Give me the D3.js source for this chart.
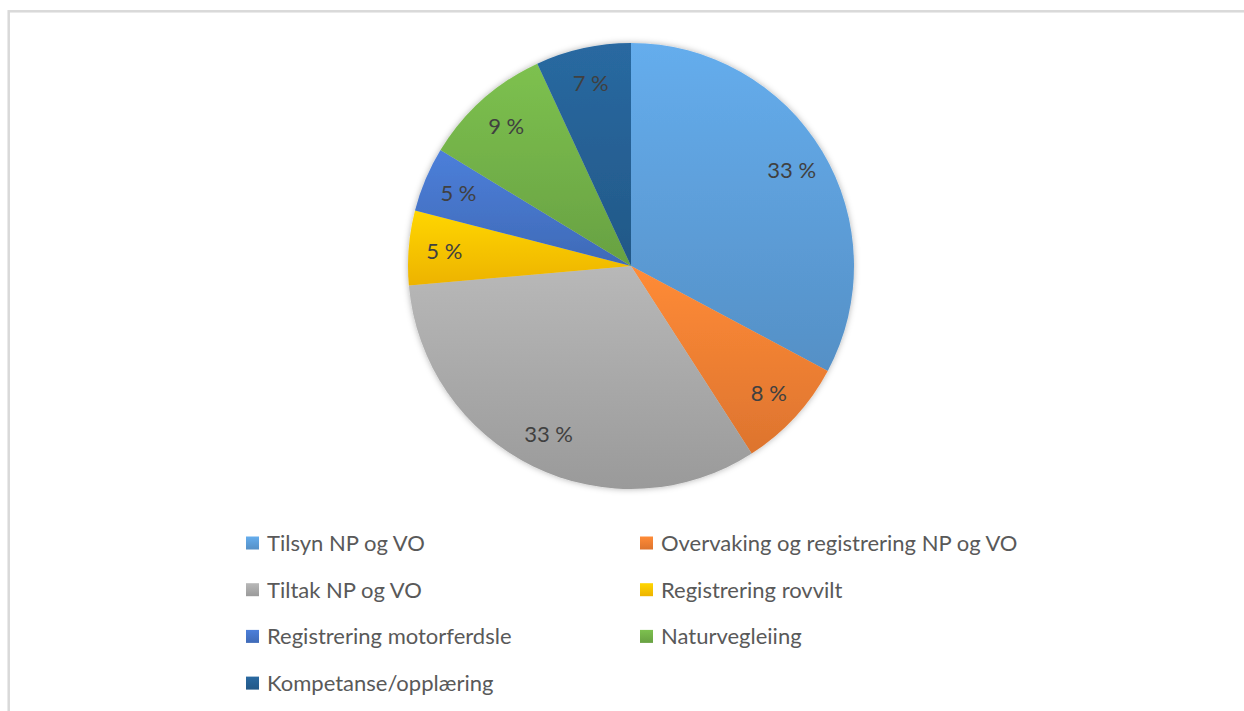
<!DOCTYPE html>
<html>
<head>
<meta charset="utf-8">
<script src="https://cdn.jsdelivr.net/npm/d3@7"></script>
<style>
  body { margin: 0; background: #fff; }
  text { font-family: Lato, "Open Sans", sans-serif; }
</style>
</head>
<body>
<div id="chart"></div>
<script>
const categories = [
  "Tilsyn NP og VO",
  "Overvaking og registrering NP og VO",
  "Tiltak NP og VO",
  "Registrering rovvilt",
  "Registrering motorferdsle",
  "Naturvegleiing",
  "Kompetanse/opplæring"
];
const shares = [32.8, 8.1, 32.7, 5.4, 4.7, 9.4, 6.9];
const colors = ["#5B9BD5", "#ED7D31", "#A5A5A5", "#FFC000", "#4472C4", "#70AD47", "#255E91"];

const data = categories.map((c, i) => ({ name: c, value: shares[i] }));

const width = 1244, height = 711;
const cx = 631, cy = 266, radius = 223;

const svg = d3.select("#chart")
  .append("svg")
  .attr("width", width)
  .attr("height", height);

// chart frame (only top/left edges fall inside the view)
svg.append("rect")
  .attr("x", 8.7)
  .attr("y", 11.3)
  .attr("width", 1300)
  .attr("height", 800)
  .attr("fill", "none")
  .attr("stroke", "#d9d9d9")
  .attr("stroke-width", 2.5);

const color = d3.scaleOrdinal().domain(categories).range(colors);

const defs = svg.append("defs");
categories.forEach((c, i) => {
  const base = d3.color(color(c));
  const g = defs.append("linearGradient")
    .attr("id", "grad" + i)
    .attr("x1", 0).attr("y1", 0)
    .attr("x2", 0).attr("y2", 1);
  g.append("stop").attr("offset", "0%").attr("stop-color", base.brighter(0.3));
  g.append("stop").attr("offset", "100%").attr("stop-color", base.darker(0.2));
});

const shadow = defs.append("filter")
  .attr("id", "glow")
  .attr("x", "-10%").attr("y", "-10%")
  .attr("width", "120%").attr("height", "120%");
shadow.append("feDropShadow")
  .attr("dx", 0).attr("dy", 0)
  .attr("stdDeviation", 3)
  .attr("flood-color", "#000")
  .attr("flood-opacity", 0.3);

const pie = d3.pie().sort(null).value(d => d.value);
const arcs = pie(data);

const arc = d3.arc().innerRadius(0).outerRadius(radius);
const labelArc = d3.arc().innerRadius(radius * 0.84).outerRadius(radius * 0.84);

const g = svg.append("g").attr("transform", `translate(${cx},${cy})`);

g.append("g")
  .attr("filter", "url(#glow)")
  .selectAll("path")
  .data(arcs)
  .join("path")
  .attr("d", arc)
  .attr("fill", (d, i) => `url(#grad${i})`);

g.append("g")
  .selectAll("text")
  .data(arcs)
  .join("text")
  .attr("transform", d => `translate(${labelArc.centroid(d)})`)
  .attr("text-anchor", "middle")
  .attr("dy", "0.36em")
  .attr("font-size", "22px")
  .attr("fill", "#404040")
  .text(d => Math.round(d.data.value) + " %");

// legend, two columns
const colX = [246, 640];
const rowY = 543, rowStep = 46.7;

const legend = svg.append("g")
  .selectAll("g")
  .data(categories)
  .join("g")
  .attr("transform", (d, i) => `translate(${colX[i % 2]},${rowY + Math.floor(i / 2) * rowStep})`);

legend.append("rect")
  .attr("x", 0)
  .attr("y", -6.5)
  .attr("width", 13)
  .attr("height", 13)
  .attr("fill", (d, i) => `url(#grad${i})`);

legend.append("text")
  .attr("x", 21)
  .attr("dy", "0.36em")
  .attr("font-size", "22px")
  .attr("fill", "#595959")
  .text(d => d);
</script>
</body>
</html>
